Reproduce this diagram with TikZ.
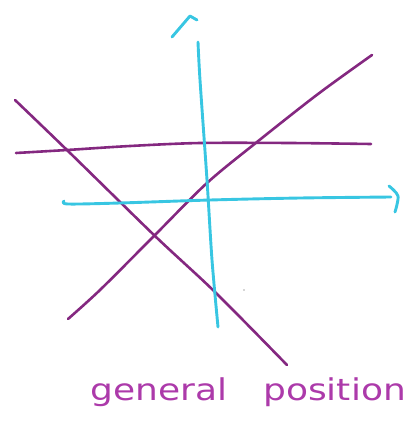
\documentclass[tikz,border=0pt]{standalone}
\usepackage{fontspec}
\newfontfamily\handfont{DejaVu Sans}
\definecolor{lineviolet}{RGB}{132,40,128}
\definecolor{textviolet}{RGB}{172,58,170}
\definecolor{skycyan}{RGB}{56,198,226}
\begin{document}
\begin{tikzpicture}[x=1pt,y=-1pt,
  violetline/.style={draw=lineviolet,line width=2.6pt,line cap=round,line join=round},
  cyanline/.style={draw=skycyan,line width=2.9pt,line cap=round,line join=round},
  handtext/.style={text=textviolet,font=\handfont\fontsize{30}{30}\selectfont,inner sep=0pt,anchor=base west,xscale=1.2}]
\useasboundingbox (0,0) rectangle (409,423);
% purple descending diagonal
\draw[violetline] plot[smooth] coordinates {(15,100) (68,151) (155,236) (215,292) (287,365)};
% purple near-horizontal
\draw[violetline] plot[smooth] coordinates {(16,153) (67,150) (130,146) (200,143) (290,143) (371,144)};
% purple ascending
\draw[violetline] plot[smooth] coordinates {(68,319) (100,290) (153,237) (207,183) (257,142) (318,94) (372,55)};
% cyan vertical
\draw[cyanline] plot[smooth] coordinates {(198,42) (200,80) (207,180) (212,260) (218,327)};
% cyan horizontal
\draw[cyanline] plot[smooth] coordinates {(64,201) (68,204) (120,203) (210,200) (300,198) (391,197)};
% cyan marks at ends
\draw[cyanline] (172,37) -- (190,16) -- (197,20);
\draw[cyanline] plot[smooth] coordinates {(389,186) (398,196) (395,212)};
% small speck
\fill[black!70] (244,290) circle (0.6pt);
% labels
\node[handtext] (general) at (90,400) {general};
\node[handtext] (position) at (263,400) {position};
\end{tikzpicture}
\end{document}
